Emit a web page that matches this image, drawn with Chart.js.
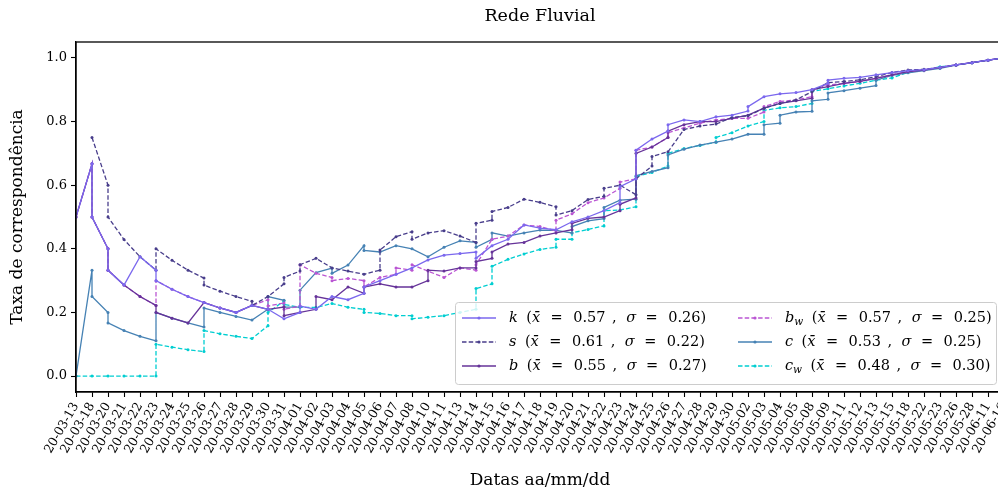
<!DOCTYPE html>
<html>
<head>
<meta charset="utf-8">
<script src="https://cdn.jsdelivr.net/npm/chart.js@4.4.0/dist/chart.umd.min.js"></script>
<style>
  html, body { margin: 0; padding: 0; overflow: hidden; background: #fff; width: 998px; height: 492px; }
  canvas { display: block; }
</style>
</head>
<body>
<canvas id="chart" width="1008" height="492"></canvas>
<script>
// dates on the x axis (one tick each)
const dates = ['20-03-13','20-03-18','20-03-20','20-03-21','20-03-22','20-03-23','20-03-24','20-03-25','20-03-26','20-03-27',
  '20-03-28','20-03-29','20-03-30','20-03-31','20-04-01','20-04-02','20-04-03','20-04-04','20-04-05','20-04-06',
  '20-04-07','20-04-08','20-04-10','20-04-11','20-04-13','20-04-14','20-04-15','20-04-16','20-04-17','20-04-18',
  '20-04-19','20-04-20','20-04-21','20-04-22','20-04-23','20-04-24','20-04-25','20-04-26','20-04-27','20-04-28',
  '20-04-29','20-04-30','20-05-02','20-05-03','20-05-04','20-05-05','20-05-08','20-05-09','20-05-11','20-05-12',
  '20-05-13','20-05-15','20-05-18','20-05-22','20-05-23','20-05-26','20-05-28','20-06-11','20-06-16'];

// values per date; several values on one date are drawn as a vertical step
const kVals = [[0.5],[0.667,0.5],[0.4,0.333],[0.286],[0.375],[0.333,0.3],[0.273],[0.25],[0.231],[0.214],
  [0.2],[0.222],[0.21],[0.18],[0.2,0.22],[0.21],[0.25],[0.24],[0.26,0.28],[0.3],
  [0.32],[0.34],[0.365],[0.38],[0.385],[0.39,0.37],[0.41],[0.43],[0.475],[0.465],
  [0.46],[0.485],[0.5],[0.52],[0.545,0.595],[0.62,0.71],[0.745],[0.77,0.79],[0.805],[0.8],
  [0.815],[0.82],[0.833,0.847],[0.878],[0.887],[0.891],[0.9],[0.92,0.93],[0.936],[0.939],
  [0.947],[0.954],[0.96],[0.963],[0.97],[0.978],[0.985],[0.993],[1.0]];
const sVals = [[],[0.75],[0.6,0.5],[0.429],[0.375],[0.333,0.4],[0.364],[0.333],[0.308,0.286],[0.267],
  [0.25],[0.235,0.222],[0.25],[0.29,0.31],[0.33,0.35],[0.37],[0.34],[0.33],[0.32],[0.333,0.396],
  [0.438],[0.454,0.43],[0.45],[0.457],[0.44],[0.42,0.48],[0.49,0.517],[0.53],[0.556],[0.546],
  [0.532,0.506],[0.52],[0.555],[0.565,0.59],[0.6],[0.57,0.62],[0.66,0.69],[0.705],[0.775],[0.786],
  [0.792],[0.813],[0.818],[0.842],[0.857],[0.868],[0.894],[0.922],[0.926],[0.931],
  [0.941],[0.954],[0.962],[0.964],[0.97],[0.978],[0.985],[0.993],[1.0]];
const bVals = [[0.5],[0.667,0.5],[0.4,0.333],[0.286],[0.25],[0.222,0.2],[0.182],[0.167],[0.231],[0.214],
  [0.2],[0.222],[0.21],[0.217,0.19],[0.2],[0.21,0.25],[0.24],[0.28],[0.26,0.28],[0.29],
  [0.28],[0.28],[0.3,0.333],[0.33],[0.34],[0.34,0.36],[0.37,0.39],[0.415],[0.42],[0.44],
  [0.45],[0.46,0.48],[0.496],[0.5],[0.52,0.54],[0.56,0.7],[0.72],[0.75,0.77],[0.79],[0.8],
  [0.8],[0.81],[0.82],[0.842],[0.857],[0.865],[0.873,0.9],[0.91],[0.92],[0.926],
  [0.936],[0.947],[0.957],[0.962],[0.97],[0.978],[0.985],[0.993],[1.0]];
const bwVals = [[0.5],[0.667,0.5],[0.4,0.333],[0.286],[0.25],[0.222,0.3],[0.273],[0.25],[0.231],[0.214],
  [0.2],[0.222],[0.24,0.22],[0.23,0.21],[0.22,0.35],[0.323],[0.31,0.3],[0.307],[0.3,0.28],[0.31],
  [0.32,0.34],[0.333,0.35],[0.33],[0.31],[0.34],[0.333,0.35],[0.43],[0.44],[0.475],[0.47],
  [0.456,0.49],[0.51],[0.545],[0.56],[0.59,0.61],[0.62,0.71],[0.72],[0.75,0.765],[0.78],[0.795],
  [0.805],[0.81],[0.81],[0.83,0.847],[0.863],[0.868],[0.878,0.9],[0.915],[0.92],[0.926],
  [0.936],[0.947],[0.957],[0.962],[0.97],[0.978],[0.985],[0.993],[1.0]];
const cVals = [[0],[0.333,0.25],[0.2,0.167],[0.143],[0.125],[0.111,0.2],[0.182],[0.167],[0.154,0.214],[0.2],
  [0.1875],[0.176],[0.21,0.25],[0.238,0.217],[0.217,0.27],[0.325],[0.339,0.323],[0.349],[0.41,0.395],[0.39],
  [0.41],[0.4],[0.375],[0.405],[0.425],[0.42,0.405],[0.43,0.45],[0.44],[0.45],[0.459],
  [0.458],[0.45,0.47],[0.488],[0.495,0.53],[0.553],[0.556,0.63],[0.643],[0.655,0.695],[0.713],[0.726],
  [0.735],[0.745],[0.76],[0.76,0.79],[0.795,0.82],[0.83],[0.832,0.865],[0.87,0.89],[0.897],[0.905],
  [0.913,0.93],[0.945],[0.953],[0.96],[0.967],[0.977],[0.985],[0.993],[1.0]];
const cwVals = [[0],[0],[0],[0],[0],[0,0.1],[0.091],[0.083],[0.077,0.143],[0.133],
  [0.125],[0.118],[0.158,0.2],[0.236,0.225],[0.216],[0.216],[0.228],[0.216],[0.21,0.2],[0.197],
  [0.19],[0.19,0.18],[0.185],[0.19],[0.2],[0.21,0.275],[0.29,0.345],[0.367],[0.384],[0.398],
  [0.405,0.43],[0.43,0.45],[0.461],[0.472,0.52],[0.522],[0.532,0.627],[0.64],[0.66,0.7],[0.715],[0.725],
  [0.735,0.75],[0.765],[0.786],[0.8,0.835],[0.843],[0.847],[0.857,0.895],[0.903],[0.912],[0.92],
  [0.93],[0.937],[0.955],[0.962],[0.972],[0.978],[0.985],[0.993],[1.0]];

// legend statistics
const seriesNames = ['k', 's', 'b', 'b_w', 'c', 'c_w'];
const seriesMeans = [0.57, 0.61, 0.55, 0.57, 0.53, 0.48];
const seriesSigmas = [0.26, 0.22, 0.27, 0.25, 0.25, 0.30];
const yTicks = [0, 0.2, 0.4, 0.6, 0.8, 1.0];

const serif = "'DejaVu Serif', serif";
const styles = [
  { color: '#7b68ee', dash: [] },
  { color: '#483d8b', dash: [4.5, 2.2] },
  { color: '#663399', dash: [] },
  { color: '#ba55d3', dash: [4.5, 2.2] },
  { color: '#4682b4', dash: [] },
  { color: '#00ced1', dash: [4.5, 2.2] },
];
const allVals = [kVals, sVals, bVals, bwVals, cVals, cwVals];

function toPoints(vals) {
  const pts = [];
  vals.forEach((group, i) => group.forEach(v => pts.push({ x: i, y: v })));
  return pts;
}

// top/right spines like a matplotlib box
const framePlugin = {
  id: 'frame',
  afterDatasetsDraw(chart) {
    const { ctx, chartArea: a } = chart;
    ctx.save();
    ctx.strokeStyle = '#000';
    ctx.lineWidth = 1.3;
    ctx.strokeRect(a.left, a.top, a.right - a.left, a.bottom - a.top);
    ctx.restore();
  }
};

// draws one piece of legend text and returns the new x
function piece(ctx, text, x, y, italic, size) {
  ctx.font = (italic ? 'italic ' : '') + (size || 14.5) + 'px ' + serif;
  ctx.fillText(text, x, y);
  return x + ctx.measureText(text).width;
}

const legendPlugin = {
  id: 'texLegend',
  afterDraw(chart) {
    const ctx = chart.ctx;
    ctx.save();
    const bx = 455.5, by = 302.5, bw = 541, bh = 82;
    ctx.beginPath();
    ctx.roundRect(bx, by, bw, bh, 3);
    ctx.fillStyle = 'rgba(255,255,255,0.8)';
    ctx.fill();
    ctx.strokeStyle = '#cccccc';
    ctx.lineWidth = 1;
    ctx.stroke();
    const colX = [462, 738];
    const rowY = [318, 342, 366];
    seriesNames.forEach((name, i) => {
      const x0 = colX[Math.floor(i / 3)];
      const y0 = rowY[i % 3];
      const st = styles[i];
      ctx.strokeStyle = st.color;
      ctx.lineWidth = 1.4;
      ctx.setLineDash(st.dash);
      ctx.beginPath();
      ctx.moveTo(x0, y0);
      ctx.lineTo(x0 + 34, y0);
      ctx.stroke();
      ctx.setLineDash([]);
      ctx.fillStyle = st.color;
      ctx.beginPath();
      ctx.arc(x0 + 17, y0, 1.6, 0, Math.PI * 2);
      ctx.fill();

      ctx.fillStyle = '#000';
      ctx.textBaseline = 'middle';
      const parts = name.split('_');
      let x = piece(ctx, parts[0], x0 + 47, y0, true);
      if (parts[1]) x = piece(ctx, parts[1], x, y0 + 4, true, 10.5);
      x = piece(ctx, '(', x + 8.5, y0, false);
      x = piece(ctx, 'x\u0304', x, y0, true);
      x = piece(ctx, '=', x + 10.5, y0, false);
      x = piece(ctx, seriesMeans[i].toFixed(2), x + 10.5, y0, false);
      x = piece(ctx, ',', x + 6.5, y0, false);
      x = piece(ctx, '\u03c3', x + 9.5, y0, true);
      x = piece(ctx, '=', x + 9.5, y0, false);
      piece(ctx, seriesSigmas[i].toFixed(2) + ')', x + 10.5, y0, false);
    });
    ctx.restore();
  }
};

const xTickFont = { family: serif, size: 12.5 };
const yTickFont = { family: serif, size: 13 };
const labelFont = { family: serif, size: 17 };

new Chart(document.getElementById('chart'), {
  type: 'line',
  data: {
    datasets: allVals.map((vals, i) => ({
      label: seriesNames[i],
      data: toPoints(vals),
      borderColor: styles[i].color,
      backgroundColor: styles[i].color,
      borderDash: styles[i].dash,
      borderWidth: 1.3,
      pointRadius: 1.5,
      pointBorderWidth: 0,
      tension: 0,
      fill: false
    }))
  },
  options: {
    responsive: false,
    animation: false,
    layout: { padding: { left: 0, right: 2, top: 0, bottom: 0 } },
    plugins: {
      legend: { display: false },
      tooltip: { enabled: false },
      title: {
        display: true,
        fullSize: false,
        text: 'Rede Fluvial',
        color: '#000',
        font: { family: serif, size: 17.5, weight: 'normal' },
        padding: { top: 6, bottom: 15 }
      }
    },
    scales: {
      x: {
        type: 'linear',
        min: 0,
        max: dates.length - 1,
        afterBuildTicks: s => { s.ticks = dates.map((d, i) => ({ value: i })); },
        afterFit: s => { s.height = 100; s.paddingLeft = 0; s.paddingRight = 0; },
        ticks: {
          autoSkip: false,
          minRotation: 60,
          maxRotation: 60,
          padding: 3,
          color: '#000',
          font: xTickFont,
          callback: v => dates[v]
        },
        grid: { display: true, drawOnChartArea: false, drawTicks: true, tickLength: 5, tickColor: '#000', tickWidth: 1.1 },
        border: { display: true, color: '#000', width: 1.3 },
        title: { display: true, text: 'Datas aa/mm/dd', color: '#000', font: labelFont, padding: { top: 0, bottom: 1 } }
      },
      y: {
        min: -0.05,
        max: 1.05,
        afterBuildTicks: s => { s.ticks = yTicks.map(v => ({ value: v })); },
        afterFit: s => { s.width = 76; s.paddingTop = 0; s.paddingBottom = 0; },
        ticks: { color: '#000', font: yTickFont, padding: 4, callback: v => v.toFixed(1) },
        grid: { display: true, drawOnChartArea: false, drawTicks: true, tickLength: 5, tickColor: '#000', tickWidth: 1.1 },
        border: { display: true, color: '#000', width: 1.3 },
        title: { display: true, text: 'Taxa de correspondência', color: '#000', font: labelFont, padding: { top: 7, bottom: 4 } }
      }
    }
  },
  plugins: [framePlugin, legendPlugin]
});
</script>
</body>
</html>
